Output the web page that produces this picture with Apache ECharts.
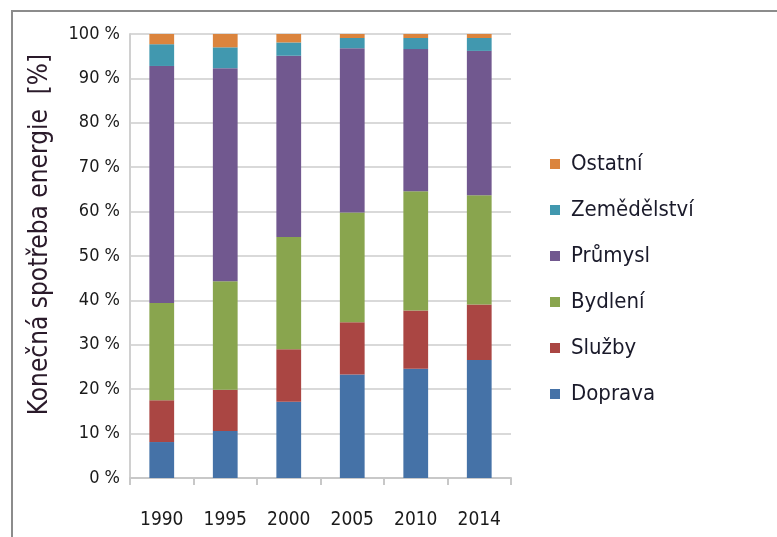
<!DOCTYPE html>
<html>
<head>
<meta charset="utf-8">
<script src="https://cdn.jsdelivr.net/npm/echarts@6/dist/echarts.min.js"></script>
<style>
  html, body { margin: 0; padding: 0; background: #fff; overflow: hidden; }
  #frame { position: absolute; left: 11px; top: 10px; width: 766px; height: 527px;
           border-left: 2px solid #8c8c8c; border-top: 2px solid #8c8c8c; }
  #chart { position: absolute; left: 0; top: 0; width: 777px; height: 537px; }
</style>
</head>
<body>
<div id="frame"></div>
<div id="chart"></div>
<script>
// roky
var years = ["1990", "1995", "2000", "2005", "2010", "2014"];

// podíly sektorů [%]
var doprava     = [8.1, 10.6, 17.2, 23.3, 24.6, 26.6];
var sluzby      = [9.4, 9.3, 11.8, 11.8, 13.1, 12.5];
var bydleni     = [21.9, 24.4, 25.3, 24.7, 26.9, 24.6];
var prumysl     = [53.4, 48.0, 40.8, 37.0, 32.0, 32.5];
var zemedelstvi = [4.9, 4.7, 3.0, 2.3, 2.5, 2.9];
var ostatni     = [2.3, 3.0, 1.9, 0.9, 0.9, 0.9];

var yTicks = [0, 10, 20, 30, 40, 50, 60, 70, 80, 90, 100];

var font = "DejaVu Sans Condensed";

function bar(name, data, color) {
  return {
    name: name,
    type: "bar",
    stack: "total",
    barWidth: "39%",
    itemStyle: { color: color },
    data: data,
  };
}

var myChart = echarts.init(document.getElementById("chart"));
myChart.setOption({
  animation: false,
  textStyle: { fontFamily: font },
  grid: { left: 130, right: 266, top: 34, bottom: 59 },
  legend: {
    orient: "vertical",
    left: 545,
    top: 148,
    itemWidth: 10,
    itemHeight: 10,
    itemGap: 24,
    icon: "rect",
    textStyle: { fontFamily: font, fontSize: 22, color: "#1a1a2a", padding: [0, 0, 0, 6] },
    data: ["Ostatní", "Zemědělství", "Průmysl", "Bydlení", "Služby", "Doprava"],
  },
  xAxis: {
    type: "category",
    data: years,
    axisLine: { lineStyle: { color: "#c8c8c8", width: 2 } },
    axisTick: { show: true, length: 7, lineStyle: { color: "#c8c8c8", width: 2 } },
    axisLabel: { interval: 0, margin: 33, fontFamily: font, fontSize: 19, color: "#1a1a1a" },
  },
  yAxis: {
    type: "value",
    min: 0,
    max: 100,
    interval: 10,
    name: "Konečná spotřeba energie  [%]",
    nameLocation: "middle",
    nameGap: 77,
    nameTextStyle: { fontFamily: font, fontSize: 26, color: "#2a1a2a", padding: [0, 0, 0, 43] },
    axisLine: { show: true, lineStyle: { color: "#d0d0d0", width: 2 } },
    axisTick: { show: false },
    splitLine: { lineStyle: { color: "#d9d9d9", width: 2 } },
    axisLabel: {
      margin: 10,
      fontFamily: font,
      fontSize: 18,
      color: "#1a1a1a",
      formatter: function (v) { return yTicks.indexOf(v) >= 0 ? v + " %" : ""; },
    },
  },
  series: [
    bar("Doprava", doprava, "#4572a7"),
    bar("Služby", sluzby, "#aa4643"),
    bar("Bydlení", bydleni, "#89a54e"),
    bar("Průmysl", prumysl, "#71588f"),
    bar("Zemědělství", zemedelstvi, "#4198af"),
    bar("Ostatní", ostatni, "#db843d"),
  ],
});
</script>
</body>
</html>
